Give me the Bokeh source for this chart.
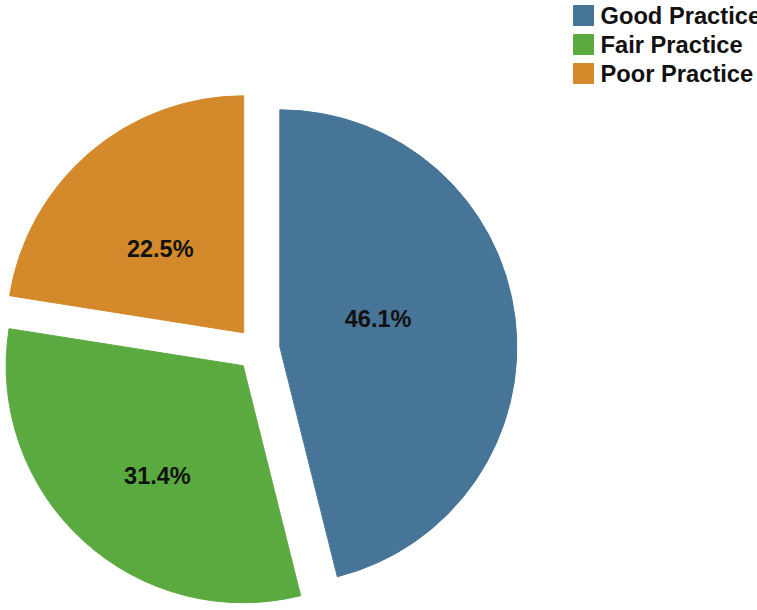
import math
from bokeh.plotting import figure
from bokeh.models import Range1d, ColumnDataSource
from bokeh.core.properties import value
from bokeh.embed import file_html
from bokeh.resources import INLINE

# ---- data ----
categories = ["Good Practice", "Fair Practice", "Poor Practice"]
percents = [46.1, 31.4, 22.5]
colors = ["#477598", "#5aaa40", "#d4892b"]

# ---- layout / style ----
W, H = 757, 610
CX, CY = 257.5, 261.0      # pie centre (pixel-like data units)
R = 237.0                  # radius
EXPLODE = 22.0             # explode distance
LABEL_DIST = [124.0, 162.0, 140.0]
LABEL_SHIFT_DEG = [7.4, 4.1, 3.8]

p = figure(width=W, height=H, x_range=Range1d(0, W), y_range=Range1d(0, H),
           output_backend="svg", toolbar_location=None, min_border=0)
p.axis.visible = False
p.grid.visible = False
p.outline_line_color = None
p.background_fill_color = "white"
p.border_fill_color = "white"

total = sum(percents)
starts, ends, xs, ys, lx, ly, labels = [], [], [], [], [], [], []
cum = 0.0
for i, v in enumerate(percents):
    a0 = math.pi / 2 - cum / total * 2 * math.pi
    cum += v
    a1 = math.pi / 2 - cum / total * 2 * math.pi
    mid = (a0 + a1) / 2
    starts.append(a0)
    ends.append(a1)
    xs.append(CX + EXPLODE * math.cos(mid))
    ys.append(CY + EXPLODE * math.sin(mid))
    la = mid + math.radians(LABEL_SHIFT_DEG[i])
    lx.append(CX + LABEL_DIST[i] * math.cos(la))
    ly.append(CY + LABEL_DIST[i] * math.sin(la))
    labels.append(f"{v:.1f}%")

src = ColumnDataSource(dict(x=xs, y=ys, s=starts, e=ends, c=colors,
                            lx=lx, ly=ly, t=labels, cat=categories))
p.wedge(x="x", y="y", radius=R, start_angle="s", end_angle="e",
        direction="clock", fill_color="c", line_color="c", line_width=1,
        source=src)
p.text(x="lx", y="ly", text="t", source=src, text_align="center",
       text_baseline="middle", text_font=value("Liberation Sans"),
       text_font_style="bold", text_font_size="23.5px", text_color="#111111")

# ---- legend (manual) ----
leg_x = 583.0
leg_y0 = 595.0
leg_step = 29.0
leg = ColumnDataSource(dict(
    x=[leg_x] * len(categories),
    y=[leg_y0 - i * leg_step for i in range(len(categories))],
    tx=[leg_x + 17.0] * len(categories),
    c=colors, t=categories))
p.rect(x="x", y="y", width=20, height=20, fill_color="c", line_color="c",
       source=leg)
p.text(x="tx", y="y", text="t", source=leg, text_align="left",
       text_baseline="middle", text_font=value("Liberation Sans"),
       text_font_style="bold", text_font_size="23.7px", text_color="#111111")

open("out.html", "w").write(file_html(p, INLINE))
